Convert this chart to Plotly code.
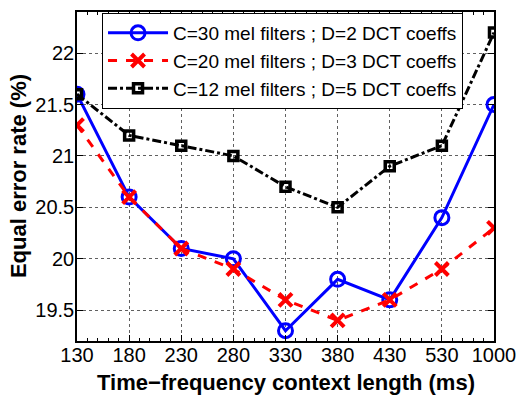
import plotly.graph_objects as go

x_labels = ["130", "180", "230", "280", "330", "380", "430", "530", "1000"]
c30 = [21.6, 20.6, 20.1, 20.0, 19.3, 19.8, 19.6, 20.4, 21.5]
c20 = [21.3, 20.6, 20.1, 19.9, 19.6, 19.4, 19.6, 19.9, 20.3]
c12 = [21.6, 21.2, 21.1, 21.0, 20.7, 20.5, 20.9, 21.1, 22.2]
names = ["C=30 mel filters ; D=2 DCT coeffs",
         "C=20 mel filters ; D=3 DCT coeffs",
         "C=12 mel filters ; D=5 DCT coeffs"]
y_ticks = [19.5, 20, 20.5, 21, 21.5, 22]
x_title = "Time−frequency context length (ms)"
y_title = "Equal error rate (%)"

xi = list(range(len(x_labels)))

fig = go.Figure()
fig.add_trace(go.Scatter(x=xi, y=c30, name=names[0], mode="lines+markers",
                         line=dict(color="#0000ff", width=3),
                         marker=dict(symbol="circle-open", size=14, color="#0000ff", line=dict(width=3))))
fig.add_trace(go.Scatter(x=xi, y=c20, name=names[1], mode="lines+markers",
                         line=dict(color="#ff0000", width=3, dash="dash"),
                         marker=dict(symbol="x-thin-open", size=13, color="#ff0000", line=dict(width=4, color="#ff0000"))))
fig.add_trace(go.Scatter(x=xi, y=c12, name=names[2], mode="lines+markers",
                         line=dict(color="#000000", width=3, dash="dashdot"),
                         marker=dict(symbol="square-open", size=9, color="#000000", line=dict(width=3.5, color="#000000"))))

font = "Liberation Sans, Arial, sans-serif"
fig.update_layout(
    width=526, height=397,
    margin=dict(l=77, r=29, t=10, b=56),
    paper_bgcolor="white", plot_bgcolor="white",
    font=dict(family=font, size=20, color="black"),
    showlegend=True,
    legend=dict(x=0.06, y=0.997, xanchor="left", yanchor="top",
                bgcolor="white", bordercolor="black", borderwidth=1,
                font=dict(size=19), tracegroupgap=0, itemwidth=60),
    xaxis=dict(range=[0, 8], tickmode="array", tickvals=xi, ticktext=x_labels,
               showgrid=True, gridcolor="#606060", griddash="dot", gridwidth=1,
               showline=True, linecolor="black", linewidth=1.5, mirror="ticks",
               ticks="inside", ticklen=6, tickcolor="black", ticklabelstandoff=-5,
               minor=dict(dtick=0.2, ticks="inside", ticklen=3, tickcolor="black", showgrid=False),
               zeroline=False),
    yaxis=dict(range=[19.2, 22.4], tickmode="array", tickvals=y_ticks,
               ticktext=["19.5", "20", "20.5", "21", "21.5", "22"],
               showgrid=True, gridcolor="#606060", griddash="dot", gridwidth=1,
               showline=True, linecolor="black", linewidth=1.5, mirror="ticks",
               ticks="inside", ticklen=6, tickcolor="black", ticklabelstandoff=-3,
               zeroline=False),
    annotations=[
        dict(text="<b>" + x_title + "</b>", xref="paper", yref="paper", x=0.5, y=-0.127,
             xanchor="center", yanchor="middle", showarrow=False, font=dict(size=22)),
        dict(text="<b>" + y_title + "</b>", xref="paper", yref="paper", x=-0.14, y=0.5,
             xanchor="center", yanchor="middle", textangle=-90, showarrow=False, font=dict(size=22)),
    ],
)
fig.write_html("out.html", config={"displayModeBar": False},
               post_script="document.body.style.margin='0';document.body.style.overflow='hidden';")
